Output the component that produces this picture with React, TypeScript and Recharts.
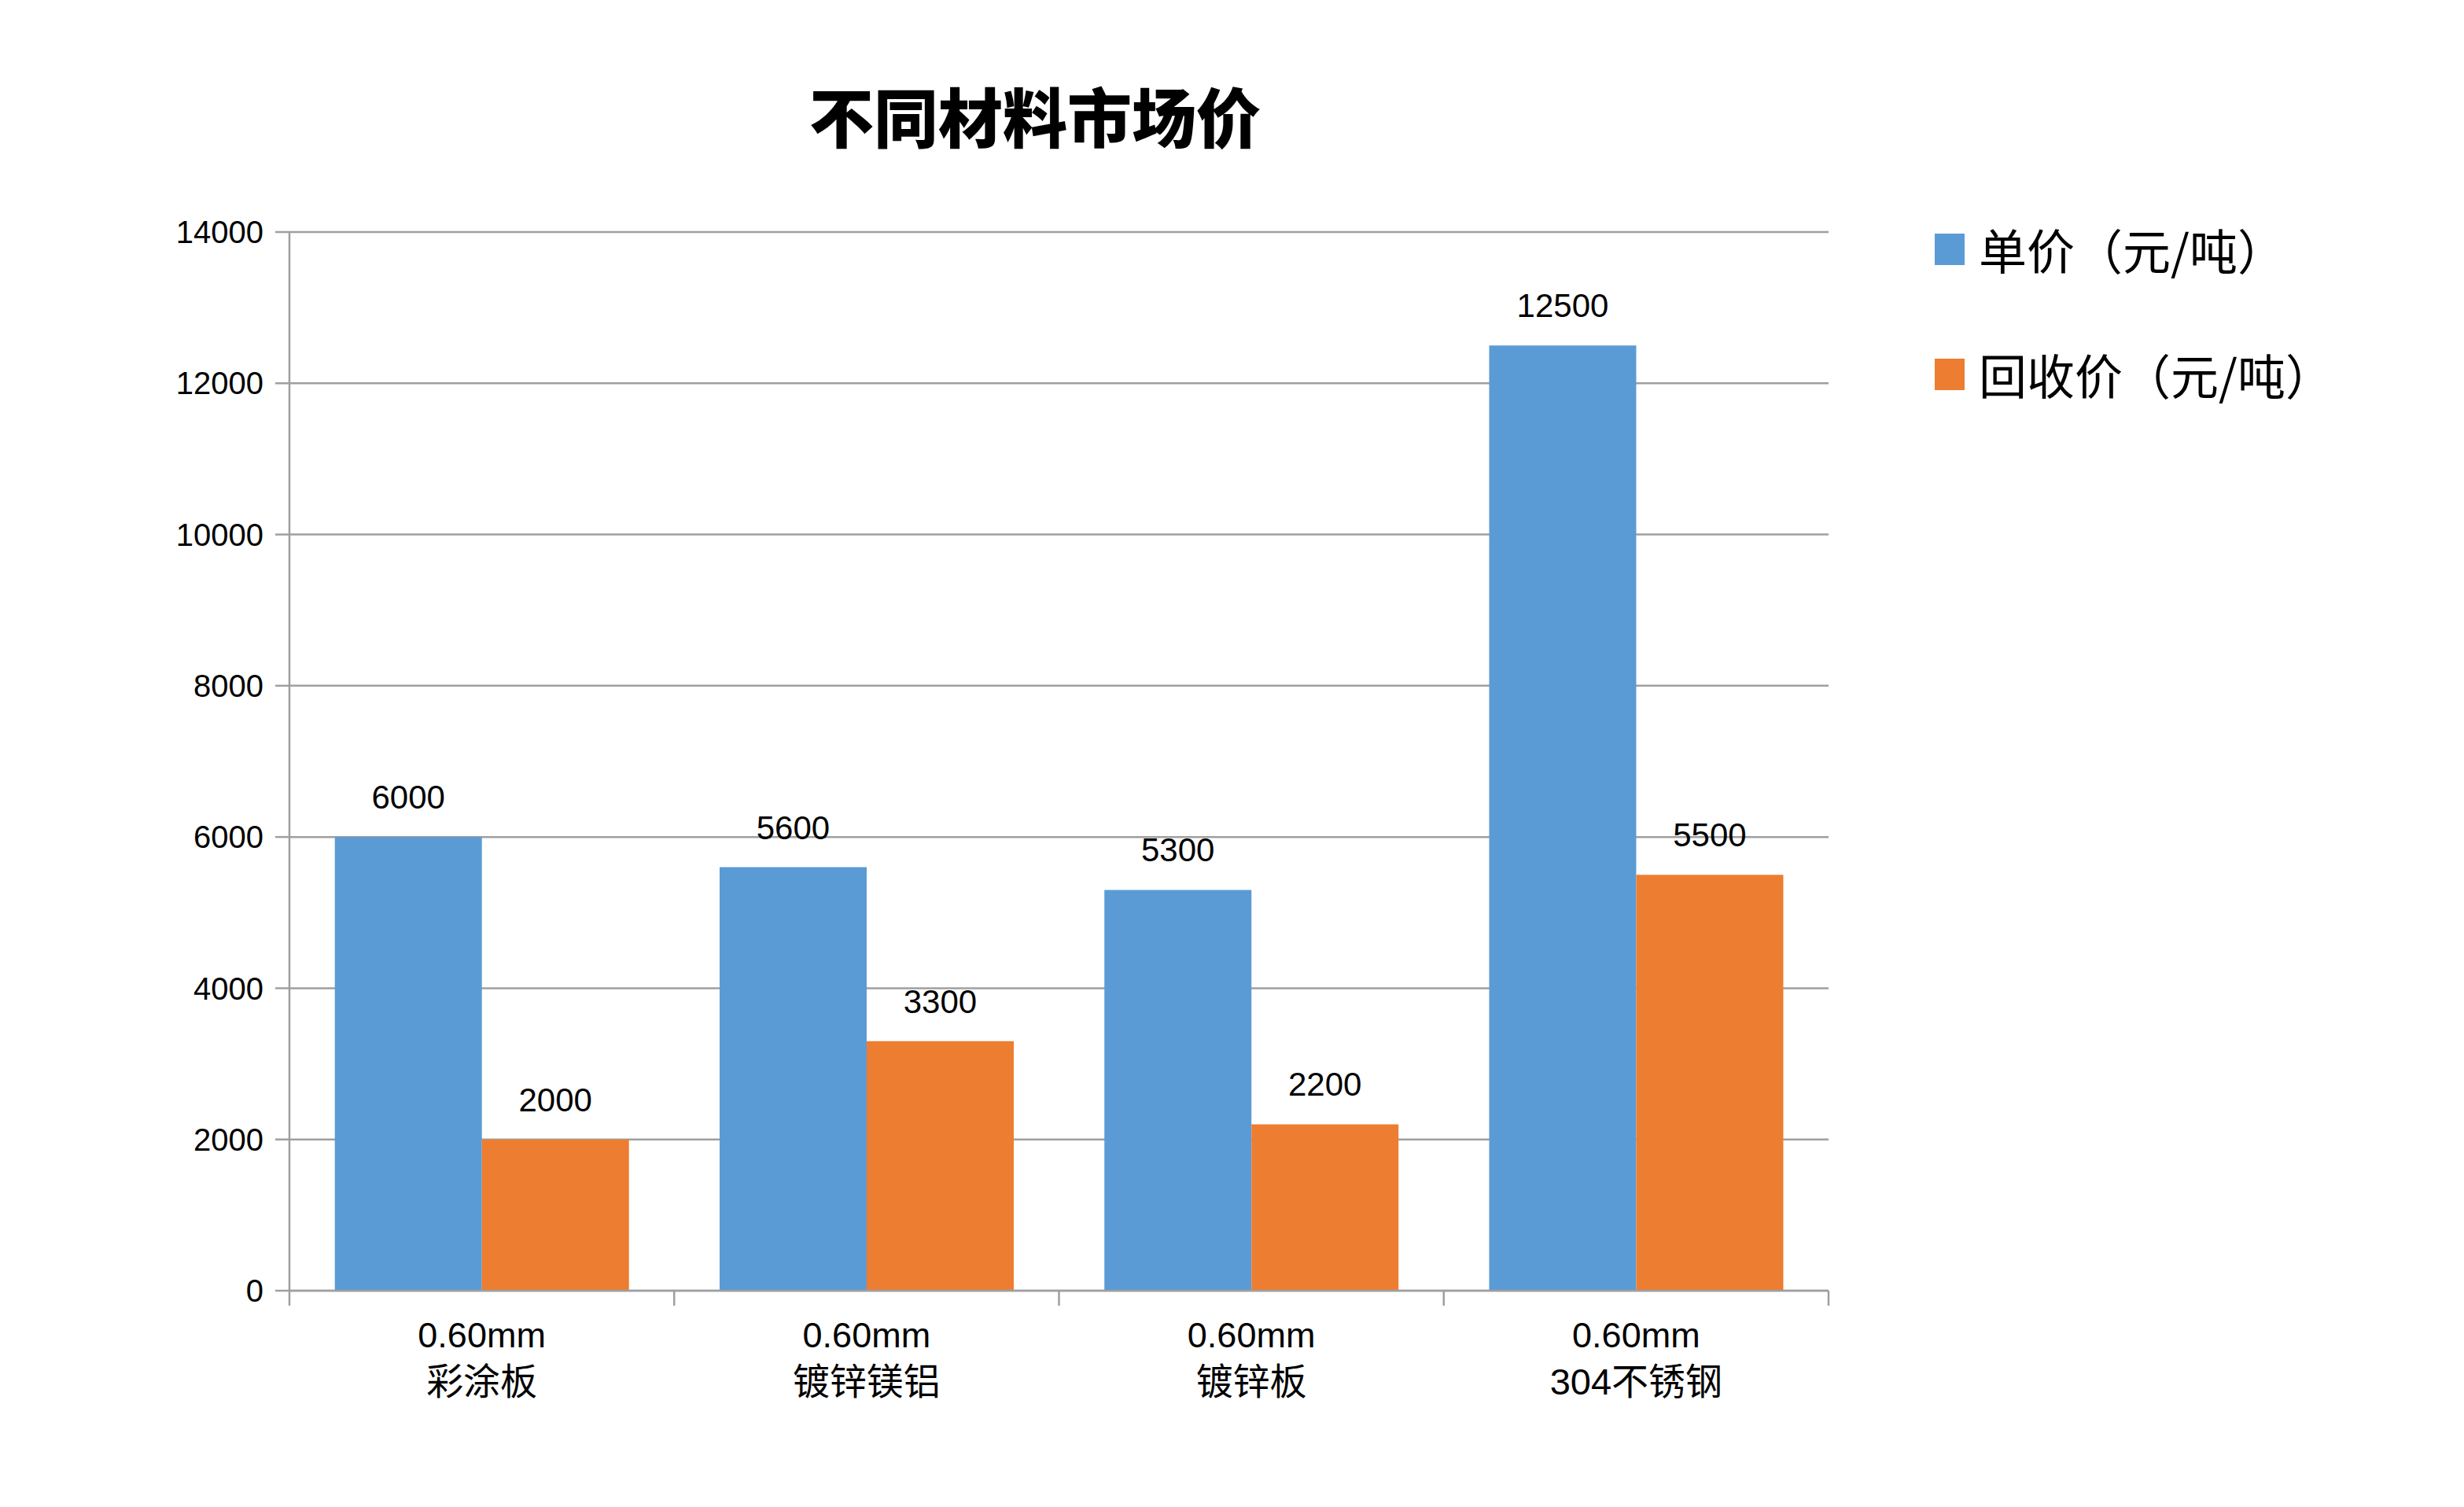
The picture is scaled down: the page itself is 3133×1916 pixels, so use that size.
import React from 'react';
import { BarChart, Bar, XAxis, YAxis, CartesianGrid, Legend, LabelList } from 'recharts';

const categories = ['0.60mm\n彩涂板', '0.60mm\n镀锌镁铝', '0.60mm\n镀锌板', '0.60mm\n304不锈钢'];
const unitPrice = [6000, 5600, 5300, 12500];
const recyclePrice = [2000, 3300, 2200, 5500];
const yTicks = [0, 2000, 4000, 6000, 8000, 10000, 12000, 14000];
const seriesNames = ['单价（元/吨）', '回收价（元/吨）'];
const colors = ['#5B9BD5', '#ED7D31'];
const title = '不同材料市场价';

const data = categories.map((c, i) => ({ name: c, a: unitPrice[i], b: recyclePrice[i] }));

const GRID = '#9f9f9f';
const NUM_FONT = '"Liberation Sans", Arial, sans-serif';
const CJK_FONT = '"Liberation Sans", "Noto Sans CJK SC", sans-serif';

const XTick = (props: any) => {
  const { x, y, payload, index, visibleTicksCount } = props;
  const half = payload && payload.offset != null ? payload.offset : 0;
  const lines = String(payload.value).split('\n');
  const isLast = index === (visibleTicksCount ?? 4) - 1;
  return (
    <g>
      <line x1={x - half} x2={x - half} y1={y} y2={y + 19} stroke={GRID} strokeWidth={2.5} />
      {isLast && <line x1={x + half} x2={x + half} y1={y} y2={y + 19} stroke={GRID} strokeWidth={2.5} />}
      <text x={x} y={y + 72} textAnchor="middle" fontSize={45} fontFamily={CJK_FONT} fill="#000">
        {lines[0]}
      </text>
      <text x={x} y={y + 132} textAnchor="middle" fontSize={47} fontFamily={CJK_FONT} fill="#000">
        {lines[1]}
      </text>
    </g>
  );
};

const LegendContent = (props: any) => {
  const { payload } = props;
  return (
    <div style={{ fontFamily: '"Noto Sans CJK SC", sans-serif' }}>
      {(payload || []).map((p: any, i: number) => (
        <div key={i} style={{ display: 'flex', alignItems: 'center', height: 80, marginBottom: i === 0 ? 79 : 0 }}>
          <div style={{ width: 38, height: 40, background: p.color, marginRight: 18 }} />
          <span style={{ fontSize: 61, color: '#000', whiteSpace: 'nowrap', lineHeight: '80px' }}>{p.value}</span>
        </div>
      ))}
    </div>
  );
};

export default function App() {
  return (
    <div style={{ position: 'absolute', left: 0, top: 0, width: 3133, height: 1916, background: '#fff' }}>
      <div
        style={{
          position: 'absolute',
          left: 0,
          width: 2632,
          top: 100,
          textAlign: 'center',
          fontSize: 82,
          lineHeight: '92px',
          fontWeight: 900,
          fontFamily: '"Noto Sans CJK SC", sans-serif',
          color: '#000',
        }}
      >
        {title}
      </div>
      <BarChart
        width={3133}
        height={1916}
        data={data}
        margin={{ top: 295, right: 808, bottom: 125, left: 0 }}
        barCategoryGap="11.8%"
        barGap={0}
      >
        <CartesianGrid vertical={false} stroke={GRID} strokeWidth={2.5} />
        <XAxis
          dataKey="name"
          interval={0}
          height={150}
          tickSize={0}
          tickMargin={0}
          axisLine={{ stroke: GRID, strokeWidth: 2.5 }}
          tickLine={false}
          tick={<XTick />}
        />
        <YAxis
          width={368}
          domain={[0, 14000]}
          ticks={yTicks}
          interval={0}
          tickSize={18}
          tickMargin={15}
          axisLine={{ stroke: GRID, strokeWidth: 2.5 }}
          tickLine={{ stroke: GRID, strokeWidth: 2.5 }}
          tick={{ fontSize: 40, fontFamily: NUM_FONT, fill: '#000' }}
        />
        <Legend
          layout="vertical"
          align="center"
          verticalAlign="middle"
          content={<LegendContent />}
          wrapperStyle={{ left: 2460, top: 277, width: 660 }}
        />
        <Bar dataKey="a" name={seriesNames[0]} fill={colors[0]} isAnimationActive={false}>
          <LabelList dataKey="a" position="top" offset={36} fontSize={42} fontFamily={NUM_FONT} fill="#000" />
        </Bar>
        <Bar dataKey="b" name={seriesNames[1]} fill={colors[1]} isAnimationActive={false}>
          <LabelList dataKey="b" position="top" offset={36} fontSize={42} fontFamily={NUM_FONT} fill="#000" />
        </Bar>
      </BarChart>
    </div>
  );
}
